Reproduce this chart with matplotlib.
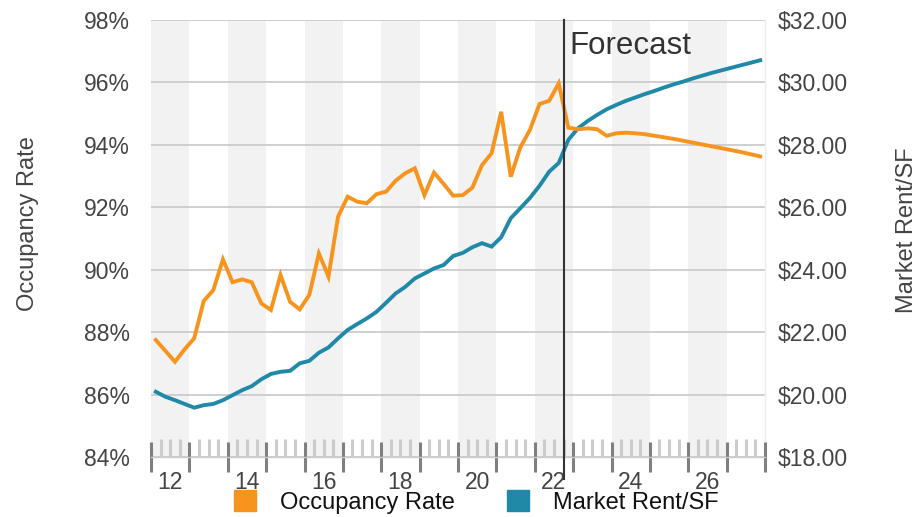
import matplotlib
matplotlib.use("Agg")
import matplotlib.pyplot as plt
import matplotlib.ticker as mticker
from matplotlib.patches import Patch
import numpy as np

plt.rcParams['font.family'] = ['Liberation Sans', 'DejaVu Sans']

# ---- data (quarterly, 2012Q1 .. 2027Q4) ----
years = list(range(2012, 2028))
quarters = [1, 2, 3, 4]
occupancy = [
    87.75, 87.40, 87.05, 87.45, 87.80, 89.00, 89.35, 90.33, 89.60, 89.69,
    89.60, 88.92, 88.71, 89.83, 88.97, 88.73, 89.19, 90.52, 89.78, 91.70,
    92.34, 92.18, 92.13, 92.42, 92.50, 92.85, 93.09, 93.25, 92.39, 93.11,
    92.75, 92.37, 92.39, 92.63, 93.35, 93.73, 95.06, 92.98, 93.92, 94.48,
    95.31, 95.41, 95.97, 94.55, 94.50, 94.53, 94.50, 94.29, 94.37, 94.39,
    94.37, 94.34, 94.29, 94.24, 94.19, 94.13, 94.07, 94.01, 93.95, 93.89,
    93.83, 93.77, 93.70, 93.63,
]
rent = [
    20.09, 19.93, 19.82, 19.70, 19.58, 19.66, 19.70, 19.82, 19.98, 20.14,
    20.27, 20.49, 20.66, 20.73, 20.76, 21.00, 21.08, 21.34, 21.51, 21.80,
    22.07, 22.26, 22.44, 22.65, 22.94, 23.24, 23.45, 23.72, 23.88, 24.04,
    24.15, 24.44, 24.54, 24.72, 24.85, 24.74, 25.04, 25.65, 25.97, 26.30,
    26.69, 27.14, 27.42, 28.16, 28.53, 28.76, 28.96, 29.14, 29.28, 29.41,
    29.52, 29.63, 29.73, 29.84, 29.94, 30.03, 30.13, 30.22, 30.31, 30.39,
    30.47, 30.55, 30.63, 30.71,
]
forecast_start = 2022.75
year_labels = ["12", "14", "16", "18", "20", "22", "24", "26"]
occ_ticks = [84, 86, 88, 90, 92, 94, 96, 98]
rent_ticks = [18, 20, 22, 24, 26, 28, 30, 32]

ORANGE = "#f7941e"
TEAL = "#2189a8"
TXT = "#444444"
FS = 16.5

# period centers
x = [y + (q - 0.5) / 4 for y in years for q in quarters]

fig = plt.figure(figsize=(9.22, 5.17), dpi=100)
ax = fig.add_axes([151 / 922, 1 - 457 / 517, (765 - 151) / 922, 437 / 517])
ax2 = ax.twinx()
ax.set_zorder(ax2.get_zorder() + 1)
ax.patch.set_visible(False)

ax.set_xlim(2012, 2028)
ax.set_ylim(84, 98)
ax2.set_ylim(18, 32)

# alternate year bands and gridlines on background axes
for yv in years[::2]:
    ax2.axvspan(yv, yv + 1, color="#f2f2f2", zorder=0, lw=0)
for t in rent_ticks:
    ax2.axhline(t, color="#cccccc", lw=1.3, zorder=1)

ax2.plot(x, rent, color=TEAL, lw=2.8, zorder=3, solid_joinstyle='miter')
ax.plot(x, occupancy, color=ORANGE, lw=2.8, zorder=4, solid_joinstyle='miter')

# forecast line
ax.axvline(forecast_start, ymin=-0.05, ymax=1.0, color="#333333", lw=1.5,
           clip_on=False, zorder=5)
ax.annotate("Forecast", xy=(forecast_start, 98), xytext=(4, -19),
            textcoords="offset points", ha="left", va="center",
            fontsize=22.5, color="#333333")

# y axes
ax.set_yticks(occ_ticks)
ax.yaxis.set_major_formatter(mticker.FuncFormatter(lambda v, p: f"{v:.0f}%"))
ax2.set_yticks(rent_ticks)
ax2.yaxis.set_major_formatter(mticker.FuncFormatter(lambda v, p: f"${v:.2f}"))
ax.tick_params(axis="y", length=0, pad=15, labelsize=FS, labelcolor=TXT)
ax2.tick_params(axis="y", length=0, pad=9, labelsize=FS, labelcolor=TXT)

# x axis ticks
ax.set_xticks(list(range(2012, 2029)))
ax.set_xticklabels([])
minor_locs = [y + q / 4 for y in years for q in (1, 2, 3)]
ax.xaxis.set_minor_locator(mticker.FixedLocator(minor_locs))
lab_map = {int(l) + 2000: l for l in year_labels}
def minor_fmt(v, p):
    yr = int(np.floor(v))
    if abs(v - yr - 0.5) < 1e-6 and yr in lab_map:
        return lab_map[yr]
    return ""
ax.xaxis.set_minor_formatter(mticker.FuncFormatter(minor_fmt))
ax.tick_params(axis="x", which="major", direction="inout", length=22,
               width=2.2, color="#808080")
ax.tick_params(axis="x", which="minor", direction="in", length=13,
               width=2.2, color="#cccccc", pad=10, labelsize=FS,
               labelcolor=TXT)
ax2.tick_params(axis="x", which="both", length=0)

for a in (ax, ax2):
    for s in ("top", "left", "right"):
        a.spines[s].set_visible(False)
ax.spines["bottom"].set_color("#cccccc")
ax.spines["bottom"].set_linewidth(1.0)
ax2.spines["bottom"].set_visible(False)
ax2.spines["right"].set_visible(True)
ax2.spines["right"].set_color("#ececec")
ax2.spines["right"].set_linewidth(1.0)

ax.set_ylabel("Occupancy Rate", fontsize=17, color=TXT)
ax.yaxis.set_label_coords(-0.183, 0.535)
ax2.set_ylabel("Market Rent/SF", fontsize=17, color=TXT, rotation=90)
ax2.yaxis.set_label_coords(1.213, 0.52)

handles = [Patch(facecolor=ORANGE, edgecolor=ORANGE, label="Occupancy Rate"),
           Patch(facecolor=TEAL, edgecolor=TEAL, label="Market Rent/SF")]
fig.legend(handles=handles, loc="center", bbox_to_anchor=(476 / 922, 1 - 502 / 517),
           ncol=2, frameon=False, fontsize=17, handlelength=0.95,
           handleheight=0.95, handletextpad=1.0, columnspacing=2.2,
           labelcolor="#111111")

fig.savefig("out.png", dpi=100)
